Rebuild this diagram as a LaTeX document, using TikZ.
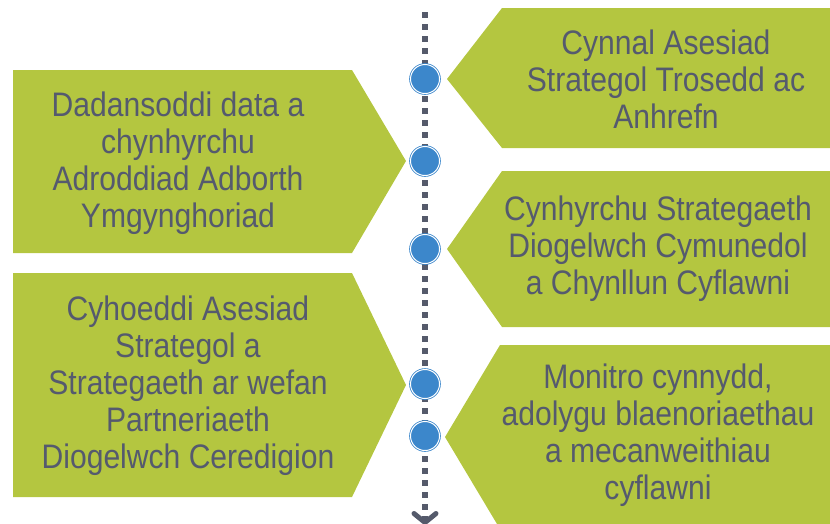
\documentclass[tikz,border=0pt]{standalone}
\usepackage{fontspec}
\setmainfont[FakeStretch=0.885]{Liberation Sans}
\usetikzlibrary{arrows.meta}
\definecolor{stepgreen}{HTML}{B4C640}
\definecolor{textgray}{HTML}{555A6E}
\definecolor{dotblue}{HTML}{3C87CB}
\definecolor{linegray}{HTML}{555A6B}

\begin{document}
\begin{tikzpicture}[x=1pt, y=-1pt,
    steptext/.style={text=textgray, align=center, font=\fontsize{34}{37}\selectfont},
    milestone/.style={circle, fill=dotblue, draw=dotblue, double=white, double distance=1pt, line width=0.8pt, minimum size=29pt, inner sep=0pt}]
    \useasboundingbox (0,0) rectangle (830,523);
    \clip (0,0) rectangle (830,523);

    % Fleches vertes (gauche)
    \fill[stepgreen] (13,70) -- (352,70) -- (406,161) -- (352,253) -- (13,253) -- cycle;
    \fill[stepgreen] (13,273) -- (352,273) -- (406,385) -- (352,497) -- (13,497) -- cycle;

    % Fleches vertes (droite)
    \fill[stepgreen] (447,79) -- (502,8) -- (830,8) -- (830,148) -- (502,148) -- cycle;
    \fill[stepgreen] (447,249) -- (502,171) -- (830,171) -- (830,327) -- (502,327) -- cycle;
    \fill[stepgreen] (445,437) -- (500,345) -- (830,345) -- (830,529) -- (500,529) -- cycle;

    % Ligne du temps
    \coordinate (top) at (425,12);
    \coordinate (bottom) at (425,525);
    \draw[linegray, line width=6pt, dash pattern=on 6pt off 6pt,
          -{Straight Barb[length=9pt, width=22pt, line width=5pt, round]}] (top) -- (bottom);

    % Jalons
    \node[milestone] (m1) at (425,79) {};
    \node[milestone] (m2) at (425,161) {};
    \node[milestone] (m3) at (425,249) {};
    \node[milestone] (m4) at (425,384) {};
    \node[milestone] (m5) at (425,436) {};

    % Textes
    \node[steptext] (cynnal) at (666,79) {Cynnal Asesiad\\Strategol Trosedd ac\\Anhrefn};
    \node[steptext] (dadansoddi) at (178,163) {Dadansoddi data a\\chynhyrchu\\Adroddiad Adborth\\Ymgynghoriad};
    \node[steptext] (cynhyrchu) at (658,249) {Cynhyrchu Strategaeth\\Diogelwch Cymunedol\\a Chynllun Cyflawni};
    \node[steptext] (cyhoeddi) at (188,386) {Cyhoeddi Asesiad\\Strategol a\\Strategaeth ar wefan\\Partneriaeth\\Diogelwch Ceredigion};
    \node[steptext] (monitro) at (658,435) {Monitro cynnydd,\\adolygu blaenoriaethau\\a mecanweithiau\\cyflawni};
\end{tikzpicture}
\end{document}
